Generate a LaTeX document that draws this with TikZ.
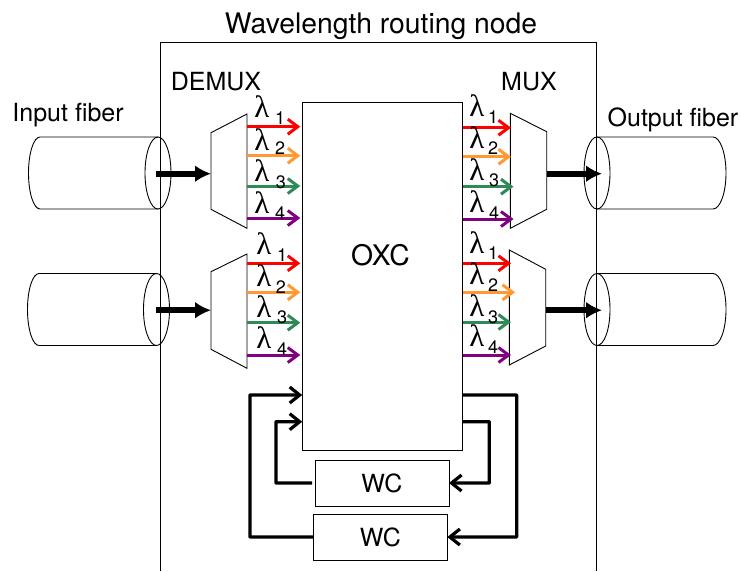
\documentclass[tikz,border=0pt]{standalone}
\usepackage{fontspec}
\setmainfont{TeX Gyre Heros}
\newfontfamily\lamfont{Liberation Serif}
\usetikzlibrary{arrows.meta,calc,positioning}

\tikzset{
  txt/.style={inner sep=0pt,font=\fontsize{25}{25}\selectfont},
  bigtxt/.style={inner sep=0pt,font=\fontsize{28.3}{28.3}\selectfont},
  lam/.style={inner sep=0pt,font=\lamfont\fontsize{31}{31}\selectfont},
  sub/.style={inner sep=0pt,font=\fontsize{18}{18}\selectfont},
  block/.style={draw,rectangle,line width=1pt,inner sep=0pt,outer sep=0pt},
  part/.style={line width=0.9pt},
  wave/.style={line width=3pt,-{Straight Barb[length=10pt,width=15pt,line width=3pt]}},
  fat/.style={line width=6.2pt,-{Latex[length=16pt,width=17pt]}},
  loopline/.style={line width=3.2pt,rounded corners=0.5pt,-{Straight Barb[length=10pt,width=16pt,line width=3.2pt]}}
}
\colorlet{wlred}{red}
\definecolor{wlorange}{RGB}{255,153,51}
\definecolor{wlgreen}{RGB}{46,139,87}
\definecolor{wlpurple}{RGB}{128,0,128}

\begin{document}
\begin{tikzpicture}[x=1pt,y=-1pt]
  \useasboundingbox (0,0) rectangle (741,571);

  % routing node frame
  \draw[part] (160.5,571) |- (596.5,42) -- (596.5,571);
  \node[bigtxt] (title) at (381,26) {Wavelength routing node};

  % cross connect and converters
  \node[block,minimum width=160.5pt,minimum height=348pt] (OXC) at (382.5,276) {};
  \node[bigtxt] (OXClabel) at (380.5,255) {OXC};
  \node[block,txt,minimum width=134pt,minimum height=46pt] (WCa) at (382,483) {WC};
  \node[block,txt,minimum width=134pt,minimum height=46pt] (WCb) at (380.3,537) {WC};

  \node[txt] (demuxlabel) at (216,82) {DEMUX};
  \node[txt] (muxlabel) at (529,82) {MUX};
  \node[txt] (inlabel) at (68,115) {Input fiber};
  \node[txt] (outlabel) at (673,120) {Output fiber};

  % fibers
  \foreach \name/\x/\xl/\y in {fia/158/40/173,fib/156.5/39/309.5}{
    \draw[part] (\x,\y-36) -- (\xl,\y-36) arc[start angle=270,end angle=90,x radius=11.5,y radius=36] -- (\x,\y+36);
    \draw[part] (\x,\y) ellipse (13 and 36);
    \coordinate (\name) at (\x,\y+0.7);
  }
  \foreach \name/\y in {foa/173,fob/309.5}{
    \draw[part] (597,\y-36) -- (713,\y-36) arc[start angle=-90,end angle=90,x radius=13,y radius=36] -- (597,\y+36);
    \draw[part] (597,\y) ellipse (13 and 36);
    \coordinate (\name) at (602,\y+0.7);
  }

  % demux and mux
  \draw[part] (211,132.7) -- (247,114) -- (247,228.3) -- (211,209.3) -- cycle;
  \draw[part] (211,271.7) -- (247,254) -- (247,368.3) -- (211,349.3) -- cycle;
  \draw[part] (510.3,113.3) -- (546.7,131.7) -- (546.7,209.3) -- (510.3,228.3) -- cycle;
  \draw[part] (509.3,250) -- (545.7,269.3) -- (545.7,346) -- (509.3,365) -- cycle;
  \coordinate (dma) at (211,173.7);
  \coordinate (dmb) at (211,310.2);
  \coordinate (mxa) at (546.7,173.7);
  \coordinate (mxb) at (545.7,310.2);

  \draw[fat] (fia) ++(-2,0) -- (dma);
  \draw[fat] (fib) ++(-0.5,0) -- (dmb);
  \draw[fat] (mxa) -- (foa);
  \draw[fat] (mxb) -- (fob);

  % wavelengths, demux side
  \foreach \name/\y/\col in {la/126.7/wlred,lb/155.7/wlorange,lc/186/wlgreen,ld/218/wlpurple,
                             le/263.3/wlred,lf/292.3/wlorange,lg/322.7/wlgreen,lh/355/wlpurple}{
    \coordinate (\name) at (247,\y);
    \draw[wave,\col,shorten >=2pt] (\name) -- (\name -| OXC.west);
  }
  % wavelengths, mux side
  \foreach \name/\y/\xe/\col in {ra/127.7/511/wlred,rb/156.7/511/wlorange,rc/186.7/513.5/wlgreen,rd/219/513.5/wlpurple,
                                 re/263.3/511/wlred,rf/292.3/515/wlorange,rg/322/511/wlgreen,rh/355/511/wlpurple}{
    \coordinate (\name) at (\xe,\y);
    \draw[wave,\col] (\name -| OXC.east) -- (\name);
  }

  % lambda labels
  \foreach \x/\y/\sx/\sy/\n in {262/107/280/118/1,262/140/280/148/2,262/171/281/182/3,262/203/280/213/4,
                                264/244/282/255/1,264/276/281/287/2,264/307/282/317/3,264/338/282/349/4,
                                477/106/493/117/1,477/138/493/148/2,477/170/494/180/3,477/202/494/213/4,
                                477/243/493/253/1,477/274/493/285/2,477/306/493/317/3,477/336/493/347/4}{
    \node[lam] at (\x,\y) {λ};
    \node[sub] at (\sx,\sy) {\n};
  }

  % wavelength conversion loops
  \coordinate (outa) at (OXC.east |- 0,421.7);
  \coordinate (outb) at (OXC.east |- 0,395);
  \coordinate (ina) at (OXC.west |- 0,421.7);
  \coordinate (inb) at (OXC.west |- 0,395);
  \draw[loopline] (outb) -- (516.7,395) |- (WCb.east);
  \draw[loopline] (outa) -- (489.3,421.7) |- (WCa.east);
  \draw[loopline] (WCa.west) ++(-3,0) -- (276,483) |- (ina);
  \draw[loopline] (WCb.west) -- (250,537) |- (inb);
\end{tikzpicture}
\end{document}
